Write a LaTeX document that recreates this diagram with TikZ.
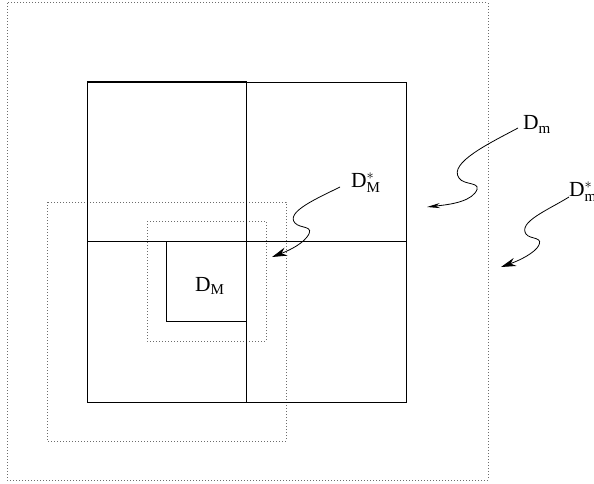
\documentclass[tikz,border=0pt]{standalone}
\usepackage{fontspec}
\setmainfont{Liberation Serif}
\usetikzlibrary{arrows.meta}
\tikzset{
  thinl/.style={line width=0.6pt},
  thickl/.style={line width=1.0pt},
  dotl/.style={line width=1pt, gray!85!black, dash pattern=on 1pt off 2pt},
  lbl/.style={anchor=base west, inner sep=0pt, font=\fontsize{21.5}{24}\selectfont},
  wig/.style={line width=0.8pt, -{Stealth[length=15pt,width=8.5pt]}},
  wigthin/.style={line width=0.8pt, -{Stealth[length=13pt,width=5pt]}}
}
\begin{document}
\begin{tikzpicture}[x=1pt,y=-1pt]
\useasboundingbox (0,0) rectangle (594,484);
% dotted frames
\draw[dotl] (7,3) rectangle (488,480);
\draw[dotl] (47,202) rectangle (286,441);
\draw[dotl] (147,221) rectangle (266,341);
% big square quadrants
\draw[thinl] (87,82) rectangle (406,402);
\draw[thinl] (246,82) -- (246,402);
\draw[thinl] (87,241) -- (406,241);
\draw[thickl] (87,82) rectangle (246,241);
\draw[thickl] (246,241) rectangle (406,402);
% small square
\draw[thickl] (166,241) rectangle (246,321);
% labels
\node[lbl] (DM) at (195,291) {D$_{\mathrm{M}}$};
\node[lbl] (DMs) at (351,187) {D$^{\mathrm{*}}_{\mathrm{M}}$};
\node[lbl] (Dm) at (523,130) {D$_{\mathrm{m}}$};
\node[lbl] (Dms) at (569,196) {D$^{\mathrm{*}}_{\mathrm{m}}$};
% arrow ends
\coordinate (DmS) at (518,128);
\coordinate (DmE) at (427,207);
\coordinate (DMsS) at (340,187);
\coordinate (DMsE) at (272,257);
\coordinate (DmsS) at (569,197);
\coordinate (DmsE) at (501,267);
% wiggly arrows
\draw[wigthin] (DmS) .. controls (490,143) and (448,163) .. (459,178)
  .. controls (464,186) and (484,181) .. (475,193)
  .. controls (467,203) and (445,205) .. (DmE);
\draw[wig] (DMsS) .. controls (318,198) and (285,212) .. (295,223)
  .. controls (300,229) and (316,225) .. (307,237)
  .. controls (300,246) and (285,252) .. (DMsE);
\draw[wig] (DmsS) .. controls (548,210) and (518,222) .. (526,234)
  .. controls (530,240) and (546,236) .. (537,248)
  .. controls (530,256) and (515,262) .. (DmsE);
\end{tikzpicture}
\end{document}
